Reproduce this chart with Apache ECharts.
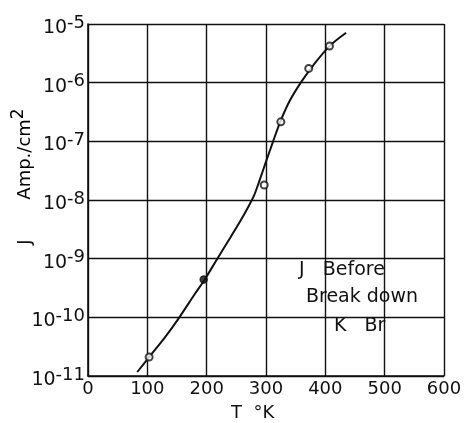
<!DOCTYPE html>
<html><head><meta charset="utf-8">
<script src="https://cdn.jsdelivr.net/npm/echarts@6/dist/echarts.min.js"></script>
<style>html,body{margin:0;padding:0;background:#fff}#c{width:471px;height:423px}</style>
</head><body><div id="c"></div>
<script>
// Measured points (T in K, J in A/cm^2)
const pointT = [103, 195, 297, 325, 372, 407];
const pointJ = [2.1e-11, 4.4e-10, 1.8e-8, 2.15e-7, 1.75e-6, 4.2e-6];
const pointFilled = [false, true, false, false, false, false];
// Fitted curve drawn through the points
const curveT = [83, 103, 130, 154, 180, 196, 218, 240, 258, 270, 280, 288, 300, 312, 324, 340, 360, 380, 407, 435];
const curveJ = [1.17e-11, 2.1e-11, 4.6e-11, 1e-10, 2.5e-10, 4.3e-10, 1e-9, 2.3e-9, 4.6e-9, 7.6e-9, 1.2e-8, 2.0e-8, 4.5e-8, 1e-7, 2.15e-7, 4.9e-7, 1.05e-6, 2.0e-6, 4.2e-6, 7.1e-6];
const xTicks = [0, 100, 200, 300, 400, 500, 600];
const yTickExps = [-11, -10, -9, -8, -7, -6, -5];

const FONT = '"DejaVu Sans", sans-serif';
const chart = echarts.init(document.getElementById('c'));
const curveData = curveT.map((t, i) => [t, curveJ[i]]);
const ptsData = pointT.map((t, i) => ({
  value: [t, pointJ[i]],
  symbol: pointFilled[i] ? 'circle' : 'emptyCircle'
}));
chart.setOption({
  animation: false,
  backgroundColor: '#fff',
  grid: { left: 88, right: 27, top: 24, bottom: 47 },
  xAxis: {
    type: 'value', min: 0, max: 600, interval: 100,
    axisLine: { show: true, lineStyle: { color: '#111', width: 1.6 } },
    axisTick: { show: false },
    splitLine: { show: true, lineStyle: { color: '#111', width: 1.4 } },
    axisLabel: { color: '#111', fontSize: 18, fontFamily: FONT, margin: 4,
      formatter: v => xTicks.includes(v) ? String(v) : '' }
  },
  yAxis: {
    type: 'log', logBase: 10, min: 1e-11, max: 1e-5,
    axisLine: { show: true, lineStyle: { color: '#111', width: 1.6 } },
    axisTick: { show: false },
    splitLine: { show: true, lineStyle: { color: '#111', width: 1.4 } },
    minorSplitLine: { show: false },
    axisLabel: {
      margin: 3,
      formatter: v => {
        const e = Math.round(Math.log10(v));
        return yTickExps.includes(e) ? '{b|10}{s|' + e + '}' : '';
      },
      rich: {
        b: { fontSize: 19, color: '#111', fontFamily: FONT, padding: [8, 0, 0, 0] },
        s: { fontSize: 18, color: '#111', fontFamily: FONT, padding: [0, 0, 2, 0] }
      }
    }
  },
  series: [
    { type: 'line', data: curveData, smooth: 0.3, symbol: 'none',
      lineStyle: { color: '#111', width: 2 }, z: 3 },
    { type: 'scatter', data: ptsData, symbolSize: 7,
      itemStyle: { color: '#111', borderColor: '#111', borderWidth: 1.6 }, z: 4 }
  ],
  graphic: [
    { type: 'text', left: 299, top: 261, style: { text: 'J   Before', font: '19px ' + FONT, fill: '#111' } },
    { type: 'text', left: 306, top: 288, style: { text: 'Break down', font: '19px ' + FONT, fill: '#111' } },
    { type: 'text', left: 334, top: 317, style: { text: 'K   Br', font: '19px ' + FONT, fill: '#111' } },
    { type: 'text', left: 231, top: 404, style: { text: 'T  °K', font: '18px ' + FONT, fill: '#111' } },
    { type: 'text', x: 25, y: 242, rotation: Math.PI / 2,
      style: { text: 'J', font: '18px ' + FONT, fill: '#111', align: 'center', verticalAlign: 'middle' } },
    { type: 'text', x: 25, y: 154, rotation: Math.PI / 2,
      style: { text: '{a|Amp./cm}{s|2}', align: 'center', verticalAlign: 'middle',
        rich: { a: { fontSize: 18, fontFamily: FONT, color: '#111' },
                s: { fontSize: 17, fontFamily: FONT, color: '#111', padding: [0, 0, 12, 0] } } } }
  ]
});
</script></body></html>
